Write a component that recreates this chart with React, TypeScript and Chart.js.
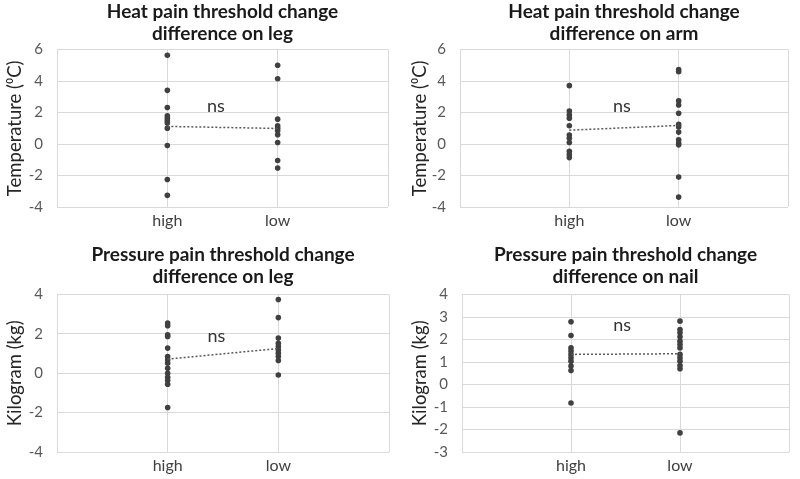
import React, { useEffect, useRef } from "react";
import { Chart, registerables } from "chart.js";
Chart.register(...registerables);

const categories = ["high", "low"];

const heatLegHigh = [5.64, 3.41, 2.32, 1.79, 1.64, 1.47, 1.33, 1.01, -0.1, -2.25, -3.26];
const heatLegLow = [5.01, 4.15, 1.58, 1.16, 1.01, 0.84, 0.59, 0.1, -1.05, -1.52];
const heatLegMeans = [1.12, 0.99];

const heatArmHigh = [3.71, 2.1, 1.85, 1.64, 1.16, 0.57, 0.36, 0.1, -0.46, -0.67, -0.86];
const heatArmLow = [4.74, 4.59, 2.74, 2.48, 1.96, 1.26, 1.09, 0.76, 0.27, 0.06, -0.05, -2.1, -3.37];
const heatArmMeans = [0.88, 1.18];

const pressLegHigh = [2.56, 2.42, 1.96, 1.87, 1.28, 0.85, 0.68, 0.51, 0.26, 0, -0.2, -0.37, -0.56, -1.74];
const pressLegLow = [3.75, 2.83, 1.79, 1.53, 1.36, 1.19, 1.02, 0.85, 0.65, -0.09];
const pressLegMeans = [0.72, 1.26];

const pressNailHigh = [2.79, 2.18, 1.63, 1.49, 1.34, 1.19, 1.04, 0.82, 0.62, -0.82];
const pressNailLow = [2.82, 2.45, 2.3, 2.12, 1.93, 1.78, 1.63, 1.34, 1.19, 1.04, 0.85, 0.7, -2.15];
const pressNailMeans = [1.34, 1.37];

const annotationText = "ns";

type Panel = {
  title: string[];
  yTitle: string;
  high: number[];
  low: number[];
  means: number[];
  yMin: number;
  yMax: number;
  yStep: number;
  nsX: number;
  nsY: number;
  left: number;
  top: number;
  w: number;
  h: number;
  axisW: number;
  xAxisH: number;
  padRight: number;
  titleTop: number;
  titleBottom: number;
  yTitlePad: number;
};

const panels: Panel[] = [
  {
    title: ["Heat pain threshold change", "difference on leg"],
    yTitle: "Temperature (\u2070C)",
    high: heatLegHigh, low: heatLegLow, means: heatLegMeans,
    yMin: -4, yMax: 6, yStep: 2, nsX: 1.44, nsY: 2.42,
    left: 0, top: 0, w: 400, h: 240, axisW: 57, xAxisH: 33, padRight: 12, titleTop: 0, titleBottom: 4, yTitlePad: 4,
  },
  {
    title: ["Heat pain threshold change", "difference on arm"],
    yTitle: "Temperature (\u2070C)",
    high: heatArmHigh, low: heatArmLow, means: heatArmMeans,
    yMin: -4, yMax: 6, yStep: 2, nsX: 1.48, nsY: 2.42,
    left: 400, top: 0, w: 400, h: 240, axisW: 60, xAxisH: 33, padRight: 12, titleTop: 0, titleBottom: 4, yTitlePad: 9,
  },
  {
    title: ["Pressure pain threshold change", "difference on leg"],
    yTitle: "Kilogram (kg)",
    high: pressLegHigh, low: pressLegLow, means: pressLegMeans,
    yMin: -4, yMax: 4, yStep: 2, nsX: 1.44, nsY: 1.91,
    left: 0, top: 240, w: 400, h: 239, axisW: 57, xAxisH: 27, padRight: 11, titleTop: 3, titleBottom: 6, yTitlePad: 4,
  },
  {
    title: ["Pressure pain threshold change", "difference on nail"],
    yTitle: "Kilogram (kg)",
    high: pressNailHigh, low: pressNailLow, means: pressNailMeans,
    yMin: -3, yMax: 4, yStep: 1, nsX: 1.47, nsY: 2.63,
    left: 400, top: 240, w: 400, h: 239, axisW: 62, xAxisH: 27, padRight: 11, titleTop: 3, titleBottom: 6, yTitlePad: 9,
  },
];

const FONT = "Lato, 'Open Sans', sans-serif";

function PanelChart({ p }: { p: Panel }) {
  const ref = useRef<HTMLCanvasElement | null>(null);
  useEffect(() => {
    if (!ref.current) return;
    const nsPlugin = {
      id: "nsText",
      afterDatasetsDraw(chart: any) {
        const { ctx, scales } = chart;
        const x = scales.x.getPixelForValue(p.nsX);
        const y = scales.y.getPixelForValue(p.nsY);
        ctx.save();
        ctx.font = `18px ${FONT}`;
        ctx.fillStyle = "#333333";
        ctx.textAlign = "center";
        ctx.textBaseline = "middle";
        ctx.fillText(annotationText, x, y);
        ctx.restore();
      },
    };
    const chart = new Chart(ref.current, {
      type: "scatter",
      data: {
        datasets: [
          {
            type: "line",
            data: p.means.map((v, i) => ({ x: i + 1, y: v })),
            borderColor: "#595959",
            borderWidth: 1.5,
            borderDash: [2, 2],
            pointRadius: 0,
            fill: false,
          } as any,
          {
            data: p.high.map((v) => ({ x: 1, y: v })),
            backgroundColor: "#404040",
            borderColor: "#404040",
            pointRadius: 2.8,
            borderWidth: 0,
          },
          {
            data: p.low.map((v) => ({ x: 2, y: v })),
            backgroundColor: "#404040",
            borderColor: "#404040",
            pointRadius: 2.8,
            borderWidth: 0,
          },
        ],
      },
      options: {
        animation: false,
        responsive: false,
        maintainAspectRatio: false,
        layout: { padding: { left: 0, right: p.padRight, top: 0, bottom: 0 } },
        plugins: {
          legend: { display: false },
          tooltip: { enabled: false },
          title: {
            display: true,
            text: p.title,
            fullSize: false,
            color: "#1a1a1a",
            font: { family: FONT, size: 19, weight: "bold", lineHeight: 1.2 },
            padding: { top: p.titleTop, bottom: p.titleBottom },
          },
        },
        scales: {
          x: {
            type: "linear",
            min: 0,
            max: 3,
            afterFit: (s: any) => { s.height = p.xAxisH; },
            afterBuildTicks: (s: any) => {
              s.ticks = [0, 1, 2, 3].map((v) => ({ value: v }));
            },
            ticks: {
              autoSkip: false,
              maxRotation: 0,
              padding: 4,
              color: "#404040",
              font: { family: FONT, size: 16 },
              callback: (v: any) => {
                const i = Number(v) - 1;
                return i >= 0 && i < categories.length ? categories[i] : "";
              },
            },
            grid: { color: "#d9d9d9", lineWidth: 1, drawTicks: false },
            border: { display: false },
          },
          y: {
            min: p.yMin,
            max: p.yMax,
            afterFit: (s: any) => { s.width = p.axisW; },
            ticks: {
              stepSize: p.yStep,
              padding: 14,
              color: "#595959",
              font: { family: FONT, size: 15 },
            },
            grid: { color: "#d9d9d9", lineWidth: 1, drawTicks: false },
            border: { display: false },
            title: {
              display: true,
              text: p.yTitle,
              color: "#262626",
              font: { family: FONT, size: 18.5 },
              padding: { top: p.yTitlePad, bottom: 0 },
            },
          },
        },
      },
      plugins: [nsPlugin],
    } as any);
    return () => chart.destroy();
  }, [p]);
  return (
    <div style={{ position: "absolute", left: p.left, top: p.top, width: p.w, height: p.h }}>
      <canvas ref={ref} width={p.w} height={p.h} style={{ width: p.w, height: p.h, display: "block" }} />
    </div>
  );
}

export default function App() {
  return (
    <div style={{ position: "fixed", left: 0, top: 0, width: 800, height: 479, background: "#ffffff" }}>
      {panels.map((p, i) => (
        <PanelChart key={i} p={p} />
      ))}
    </div>
  );
}
